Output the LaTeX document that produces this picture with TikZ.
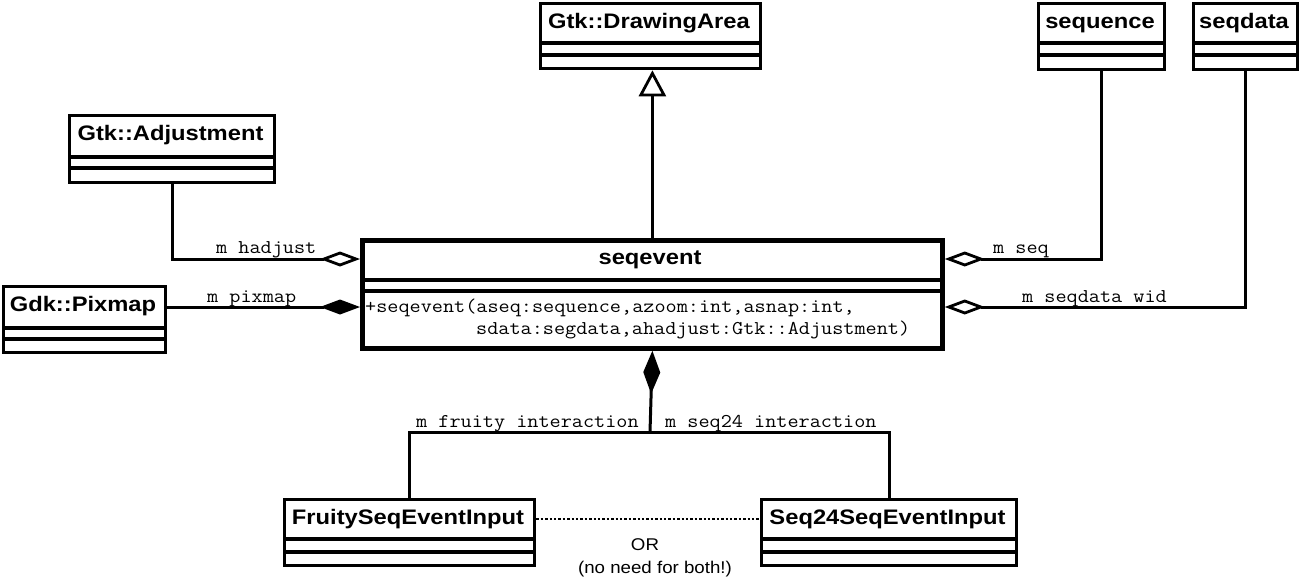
\documentclass[tikz,border=0pt]{standalone}
\usepackage{fontspec}
\usepackage{graphicx}
\setmainfont{Liberation Sans}
\usetikzlibrary{arrows.meta}
\tikzset{
  cls/.style={draw, rectangle, line width=3.3pt, inner sep=0pt, anchor=north west, fill=white},
  thick box/.style={line width=4.8pt},
  sepline/.style={line width=3.3pt},
  ttl/.style={inner sep=0pt, anchor=base, font=\bfseries\fontsize{21}{25}\selectfont},
  conn/.style={line width=3pt},
  lbl/.style={inner sep=0pt, anchor=base west, font=\ttfamily\fontsize{19.5}{22}\selectfont},
  note/.style={inner sep=0pt, anchor=base, font=\fontsize{17}{20}\selectfont},
  dotline/.style={line width=2.8pt, dash pattern=on 2.4pt off 2pt},
  aggr/.style={-{Diamond[open, length=40pt, width=15pt, line width=2.8pt]}},
  compo/.style={-{Diamond[length=40pt, width=15pt]}},
}
% #1 extra style, #2 name, #3 x1, #4 y1, #5 x2, #6 y2, #7 sep1, #8 sep2, #9 title
\newcommand{\uclass}[9]{%
  \node[cls, #1, minimum width={#5-#3}, minimum height={#6-#4}] (#2) at (#3,#4) {};
  \node[ttl] (#2t) at ({(#3+#5)/2},{#4+26}) {\scalebox{1.13}[1]{#9}};
  \draw[sepline, #1] (#3,#7) -- (#5,#7);
  \draw[sepline, #1] (#3,#8) -- (#5,#8);
}
\newcommand{\mono}[1]{\scalebox{1.108}[1]{#1}}
\begin{document}
\begin{tikzpicture}[x=1pt, y=-1pt]
  \path[fill=white, use as bounding box] (0,0) rectangle (1299,579);

  % classes
  \uclass{}{da}{539}{2}{759}{67}{43}{55}{Gtk::DrawingArea}
  \uclass{}{sqn}{1037}{2}{1163}{68}{43}{55}{sequence}
  \uclass{}{sqd}{1192}{2}{1296}{68}{43}{55}{seqdata}
  \uclass{}{adj}{68}{114}{273}{181}{157}{168}{Gtk::Adjustment}
  \uclass{}{pix}{2}{285}{164}{351}{328}{339}{Gdk::Pixmap}
  \uclass{thick box}{seq}{360}{238}{940}{346}{280}{291}{seqevent}
  \uclass{}{fr}{283}{498}{533}{564}{539}{552}{FruitySeqEventInput}
  \uclass{}{s24}{760}{498}{1015}{564}{539}{552}{Seq24SeqEventInput}

  % operation of seqevent
  \node[lbl] (op1) at (365,312) {\mono{+seqevent(aseq:sequence,azoom:int,asnap:int,}};
  \node[lbl] (op2) at (476,334) {\mono{sdata:segdata,ahadjust:Gtk::Adjustment)}};

  % inheritance
  \draw[conn, -{Triangle[open, length=26pt, width=27pt, line width=2.8pt]}] (seq.north) -- (seq.north |- da.south);

  % aggregations
  \draw[conn, aggr] (adj.south) |- (seq.west |- 0,259);
  \draw[conn, compo] (pix.east |- 0,307) -- (seq.west |- 0,307);
  \draw[conn, aggr] (sqn.south) |- (seq.east |- 0,259);
  \draw[conn, aggr] (sqd.south) |- (seq.east |- 0,307);

  % composition to inputs
  \coordinate (j) at (650,432);
  \draw[conn, {Diamond[length=43pt, width=17pt]}-] (seq.south) -- (j);
  \draw[conn] (j) -| (fr.north);
  \draw[conn] (j) -| (s24.north);
  \draw[dotline] (fr.east |- 0,519) -- (s24.west |- 0,519);

  % labels
  \node[lbl] (l1) at (216,253) {\mono{m hadjust}};
  \node[lbl] (l2) at (207,302) {\mono{m pixmap}};
  \node[lbl] (l3) at (993,253) {\mono{m seq}};
  \node[lbl] (l4) at (1022,302) {\mono{m seqdata wid}};
  \node[lbl] (l5) at (416,427) {\mono{m fruity interaction}};
  \node[lbl] (l6) at (665,427) {\mono{m seq24 interaction}};

  \node[note] (or) at (645,550) {\scalebox{1.1}[1]{OR}};
  \node[note] (nb) at (655,573) {\scalebox{1.1}[1]{(no need for both!)}};
\end{tikzpicture}
\end{document}
